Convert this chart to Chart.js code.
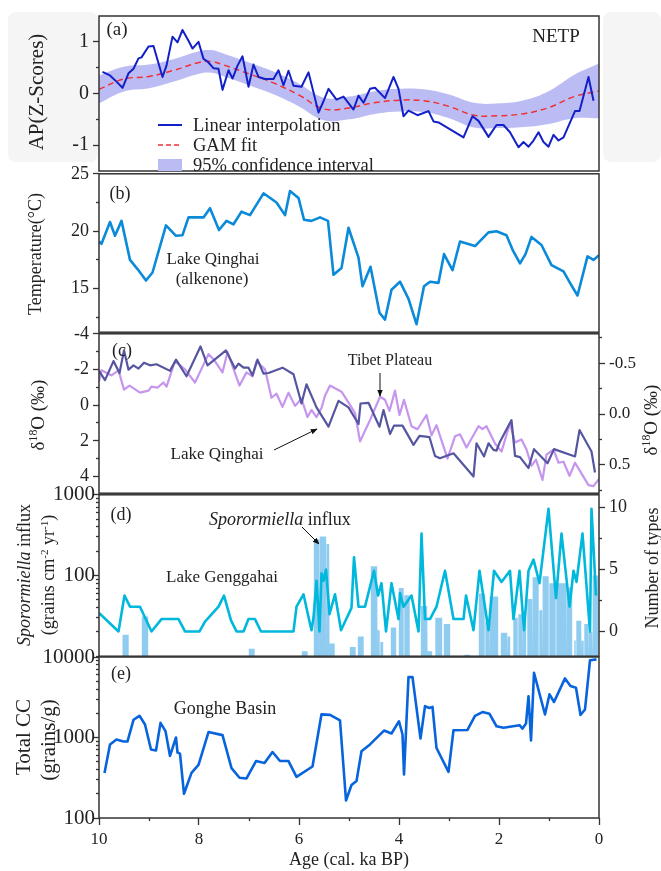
<!DOCTYPE html>
<html>
<head>
<meta charset="utf-8">
<script src="https://cdn.jsdelivr.net/npm/chart.js@4.4.1/dist/chart.umd.min.js"></script>
<style>
  body { margin: 0; background: #fff; }
  #fig { position: relative; width: 661px; height: 871px; overflow: hidden;
         font-family: 'Liberation Serif', 'Times New Roman', serif; color: #222; }
  #fig canvas { position: absolute; left: 0; }
  .shade { position: absolute; background: #f5f5f5; border-radius: 8px; }
  .c { position: absolute; white-space: nowrap; line-height: 1; transform: translate(-50%, -50%); }
  .l { position: absolute; white-space: nowrap; line-height: 1; transform: translate(0, -50%); }
  .vt { position: absolute; white-space: nowrap; line-height: 1; transform: translate(-50%, -50%) rotate(-90deg); }
  sup { font-size: 0.62em; vertical-align: 0.55em; line-height: 0; }
  svg { position: absolute; left: 0; top: 0; }
</style>
</head>
<body>
<div id="fig">
  <div class="shade" style="left:8px;top:12px;width:90px;height:150px"></div>
  <div class="shade" style="left:603px;top:12px;width:58px;height:150px"></div>

  <canvas id="pa"></canvas>
  <canvas id="pb"></canvas>
  <canvas id="pc"></canvas>
  <canvas id="pd"></canvas>
  <canvas id="pe"></canvas>

  <svg width="661" height="871">
    <defs>
      <marker id="head" viewBox="0 0 10 10" refX="9" refY="5" markerWidth="7" markerHeight="7" orient="auto">
        <path d="M0,1 L10,5 L0,9 z" fill="#111"/>
      </marker>
    </defs>
    <!-- legend swatches, panel (a) -->
    <line x1="158" y1="125" x2="182" y2="125" stroke="#1320c8" stroke-width="2"/>
    <line x1="158" y1="145" x2="182" y2="145" stroke="#f03030" stroke-width="1.5" stroke-dasharray="5,3"/>
    <rect x="158" y="159" width="24" height="12" fill="#bcbcf4"/>
    <!-- pointers -->
    <line x1="274" y1="450" x2="317" y2="429" stroke="#111" stroke-width="1" marker-end="url(#head)"/>
    <line x1="380" y1="373" x2="380" y2="396" stroke="#111" stroke-width="1" marker-end="url(#head)"/>
    <line x1="302" y1="527" x2="319" y2="544" stroke="#111" stroke-width="1" marker-end="url(#head)"/>
  </svg>

  <!-- axis titles -->
  <div class="vt" style="left:36px;top:92px;font-size:21px">AP(Z-Scores)</div>
  <div class="vt" style="left:35px;top:254px;font-size:18px">Temperature(°C)</div>
  <div class="vt" style="left:37px;top:415px;font-size:19px">δ<sup>18</sup>O (‰)</div>
  <div class="vt" style="left:650px;top:420px;font-size:19px">δ<sup>18</sup>O (‰)</div>
  <div class="vt" style="left:24px;top:575px;font-size:18px"><i>Sporormiella</i> influx</div>
  <div class="vt" style="left:48px;top:575px;font-size:18px">(grains cm<sup>-2</sup> yr<sup>-1</sup>)</div>
  <div class="vt" style="left:652px;top:568px;font-size:18px">Number of types</div>
  <div class="vt" style="left:23px;top:737px;font-size:21px">Total CC</div>
  <div class="vt" style="left:48px;top:740px;font-size:21px">(grains/g)</div>

  <!-- panel labels and notes -->
  <div class="c" style="left:117px;top:28px;font-size:19px">(a)</div>
  <div class="c" style="left:556px;top:35px;font-size:19px">NETP</div>
  <div class="l" style="left:193px;top:125px;font-size:18.5px">Linear interpolation</div>
  <div class="l" style="left:193px;top:145px;font-size:18.5px">GAM fit</div>
  <div class="l" style="left:193px;top:165px;font-size:18.5px">95% confidence interval</div>

  <div class="c" style="left:120px;top:193px;font-size:18px">(b)</div>
  <div class="c" style="left:213px;top:258px;font-size:17px">Lake Qinghai</div>
  <div class="c" style="left:212px;top:278px;font-size:17px">(alkenone)</div>

  <div class="c" style="left:122px;top:350px;font-size:18px">(c)</div>
  <div class="c" style="left:217px;top:453px;font-size:17px">Lake Qinghai</div>
  <div class="c" style="left:390px;top:360px;font-size:16px">Tibet Plateau</div>

  <div class="c" style="left:121px;top:514px;font-size:18px">(d)</div>
  <div class="l" style="left:209px;top:519px;font-size:18px"><i>Sporormiella</i> influx</div>
  <div class="c" style="left:222px;top:576px;font-size:17px">Lake Genggahai</div>

  <div class="c" style="left:121px;top:673px;font-size:18px">(e)</div>
  <div class="c" style="left:225px;top:708px;font-size:18px">Gonghe Basin</div>
</div>

<script>
// (a) arboreal pollen Z-scores, NETP
const apAge = [9.93, 9.78, 9.65, 9.53, 9.41, 9.31, 9.21, 9.15, 9.01, 8.91, 8.73, 8.65, 8.53, 8.43, 8.33, 8.21, 8.13, 8.01,
  7.91, 7.83, 7.71, 7.61, 7.53, 7.41, 7.33, 7.23, 7.13, 7.01, 6.91, 6.81, 6.68, 6.51, 6.41, 6.31, 6.21, 6.11, 5.95, 5.81,
  5.61, 5.51, 5.41, 5.25, 5.11, 4.91, 4.81, 4.71, 4.58, 4.48, 4.28, 4.11, 4.01, 3.91, 3.81, 3.63, 3.41, 3.31, 3.21, 2.71,
  2.53, 2.41, 2.21, 2.05, 1.91, 1.78, 1.61, 1.51, 1.41, 1.31, 1.21, 1.11, 1.01, 0.91, 0.81, 0.71, 0.48, 0.39, 0.21, 0.11];
const apValue = [0.42, 0.35, 0.23, 0.11, 0.39, 0.48, 0.68, 0.70, 0.91, 0.92, 0.32, 0.54, 1.10, 0.99, 1.23, 1.02, 0.87, 1.00,
  0.67, 0.62, 0.49, 0.48, 0.07, 0.45, 0.29, 0.54, 0.72, 0.13, 0.56, 0.32, 0.28, 0.28, 0.45, 0.16, 0.44, 0.15, 0.13, 0.41,
  -0.37, -0.15, 0.09, -0.12, -0.06, -0.31, -0.04, -0.18, 0.09, 0.11, -0.09, 0.32, 0.09, -0.44, -0.33, -0.42, -0.34, -0.54, -0.56, -0.85,
  -0.44, -0.53, -0.84, -0.61, -0.61, -0.75, -1.04, -0.94, -1.03, -0.91, -0.75, -0.94, -1.03, -0.80, -0.91, -0.85, -0.34, -0.34, 0.32, -0.14];
const gamAge = [10, 9.5, 9, 8.5, 8, 7.75, 7.5, 7, 6.5, 6, 5.5, 5, 4.5, 4, 3.5, 3, 2.5, 2, 1.5, 1, 0.5, 0];
const gamFit = [0.08, 0.28, 0.33, 0.45, 0.60, 0.62, 0.55, 0.38, 0.20, -0.03, -0.30, -0.28, -0.18, -0.13, -0.14, -0.25, -0.42, -0.43, -0.39, -0.27, -0.06, 0.05];
const ciUpper = [0.35, 0.52, 0.56, 0.67, 0.82, 0.84, 0.77, 0.60, 0.42, 0.19, -0.08, -0.06, 0.04, 0.09, 0.08, -0.02, -0.18, -0.19, -0.13, 0.05, 0.36, 0.58];
const ciLower = [-0.19, 0.04, 0.10, 0.23, 0.38, 0.40, 0.33, 0.16, -0.02, -0.25, -0.52, -0.50, -0.40, -0.35, -0.36, -0.48, -0.66, -0.67, -0.65, -0.59, -0.48, -0.48];

// (b) Lake Qinghai alkenone temperature
const tempAge = [10, 9.95, 9.78, 9.68, 9.55, 9.38, 9.23, 9.06, 8.93, 8.66, 8.46, 8.33, 8.21, 7.91, 7.78, 7.6, 7.45, 7.31,
  7.15, 6.98, 6.71, 6.45, 6.28, 6.18, 6.01, 5.9, 5.75, 5.58, 5.42, 5.31, 5.15, 5.01, 4.81, 4.73, 4.57, 4.39, 4.28, 4.15,
  3.98, 3.81, 3.65, 3.5, 3.38, 3.21, 3.1, 2.93, 2.78, 2.48, 2.21, 2.05, 1.85, 1.72, 1.58, 1.47, 1.35, 1.15, 0.95, 0.71,
  0.58, 0.43, 0.23, 0.11, 0];
const tempValue = [19.1, 18.9, 20.8, 19.6, 20.9, 17.5, 16.7, 15.7, 16.4, 20.5, 19.6, 19.65, 21.2, 21.2, 22.0, 20.1, 20.9, 20.6,
  21.7, 21.4, 23.3, 22.5, 21.4, 23.5, 22.9, 21.0, 20.9, 21.2, 20.9, 16.2, 16.8, 20.3, 17.7, 15.2, 16.9, 12.9, 12.3, 14.9,
  15.6, 14.1, 11.9, 15.2, 15.6, 15.5, 18.0, 16.6, 19.1, 18.7, 19.9, 20.0, 19.65, 18.3, 17.2, 18.0, 19.5, 18.8, 17.05, 16.5,
  15.5, 14.4, 17.8, 17.5, 17.9];

// (c) d18O: Lake Qinghai (left axis) and Tibet Plateau (right axis)
const qhAge = [10, 9.88, 9.71, 9.59, 9.5, 9.41, 9.31, 9.21, 9.1, 8.98, 8.85, 8.58, 8.46, 8.25, 7.97, 7.83, 7.46, 7.28, 7.21,
  7.11, 7.01, 6.93, 6.83, 6.71, 6.61, 6.33, 6.11, 5.95, 5.85, 5.65, 5.41, 5.21, 5.01, 4.81, 4.77, 4.61, 4.39, 4.31, 4.18,
  4.1, 3.93, 3.71, 3.59, 3.39, 3.28, 3.18, 2.91, 2.51, 2.45, 2.3, 2.21, 2.11, 2.05, 1.98, 1.75, 1.68, 1.58, 1.41, 1.3,
  1.03, 0.9, 0.48, 0.39, 0.15, 0.08];
const qhD18O = [-1.92, -1.40, -2.47, -1.80, -3.07, -1.99, -2.23, -2.05, -2.38, -2.23, -2.29, -1.92, -2.55, -1.62, -3.29, -2.23, -3.07, -2.05, -2.33,
  -2.10, -2.10, -1.67, -2.55, -1.77, -1.80, -2.10, -1.73, -0.09, -1.17, 0.13, 1.21, -0.24, 0.13, 1.06, -0.09, -0.13, 1.21, 0.28, 1.62,
  1.15, 1.15, 2.23, 1.73, 1.80, 2.85, 2.98, 2.70, 4.00, 2.14, 2.88, 2.14, 2.51, 2.55, 2.05, 0.84, 2.85, 2.92, 3.53, 2.47,
  3.26, 2.47, 2.88, 1.40, 2.60, 3.78];
const tpAge = [10, 9.95, 9.75, 9.61, 9.5, 9.39, 9.18, 9.01, 8.95, 8.83, 8.71, 8.65, 8.48, 8.28, 8.08, 7.81, 7.71, 7.53, 7.43,
  7.19, 7.05, 6.93, 6.85, 6.68, 6.55, 6.45, 6.33, 6.21, 6.08, 5.95, 5.83, 5.75, 5.65, 5.55, 5.48, 5.38, 5.15, 4.98, 4.88,
  4.78, 4.58, 4.38, 4.28, 4.19, 4.08, 3.99, 3.9, 3.75, 3.63, 3.45, 3.35, 3.25, 3.03, 2.88, 2.78, 2.65, 2.41, 2.33, 2.25,
  2.08, 1.95, 1.78, 1.68, 1.55, 1.45, 1.35, 1.26, 1.13, 1.05, 0.91, 0.81, 0.71, 0.59, 0.48, 0.37, 0.21, 0.11, 0];
const tpD18O = [-0.32, -0.43, -0.38, -0.43, -0.24, -0.28, -0.21, -0.23, -0.27, -0.26, -0.31, -0.27, -0.52, -0.44, -0.31, -0.59, -0.54, -0.41, -0.61,
  -0.28, -0.41, -0.37, -0.52, -0.44, -0.16, -0.20, -0.07, -0.21, -0.08, -0.15, 0.03, -0.04, 0.03, -0.06, -0.18, -0.28, -0.22, -0.09, -0.01,
  0.27, 0.06, -0.17, -0.14, -0.03, -0.23, 0.01, -0.14, 0.12, 0.15, 0.01, 0.21, 0.11, 0.44, 0.22, 0.20, 0.33, 0.12, 0.15, 0.12,
  0.29, 0.37, 0.09, 0.28, 0.25, 0.35, 0.51, 0.45, 0.65, 0.40, 0.35, 0.48, 0.47, 0.61, 0.48, 0.57, 0.70, 0.71, 0.64];

// (d) Lake Genggahai: Sporormiella influx bars and number of dung-fungus types
const sporFrom = [9.54, 9.15, 7.01, 5.95, 5.71, 5.59, 5.45, 5.39, 4.99, 4.83, 4.57, 4.43, 4.38, 4.17, 4.01, 3.90, 3.57, 3.43,
  3.28, 3.11, 2.70, 2.41, 2.28, 2.19, 1.97, 1.83, 1.72, 1.62, 1.53, 1.44, 1.33, 1.20, 1.13, 1.00, 0.86, 0.65, 0.50, 0.46,
  0.35, 0.30, 0.21, 0.13];
const sporTo = [9.40, 9.01, 6.88, 5.82, 5.59, 5.45, 5.39, 5.28, 4.86, 4.70, 4.43, 4.38, 4.31, 4.05, 3.90, 3.78, 3.43, 3.33,
  3.13, 2.97, 2.57, 2.28, 2.19, 2.01, 1.83, 1.77, 1.62, 1.53, 1.45, 1.33, 1.20, 1.13, 1.00, 0.86, 0.65, 0.53, 0.46, 0.35,
  0.30, 0.21, 0.13, 0.00];
const sporInflux = [18.5, 31, 12.4, 11.5, 280, 305, 245, 14.4, 13, 17.5, 130, 21, 15, 22.6, 70, 57, 42, 11.5,
  30, 25, 10.4, 60, 27, 55, 19.5, 17.5, 30, 33, 29.5, 51, 95, 37, 98, 80, 80, 71, 15.7, 27.5,
  15.5, 25, 20, 100];
const typesAge = [10, 9.61, 9.49, 9.38, 9.18, 8.95, 8.75, 8.41, 8.28, 7.99, 7.88, 7.61, 7.5, 7.36, 7.25, 7.11, 7.01, 6.88,
  6.76, 6.11, 6.05, 5.91, 5.79, 5.75, 5.71, 5.65, 5.59, 5.55, 5.51, 5.46, 5.39, 5.28, 5.16, 4.95, 4.9, 4.81, 4.68, 4.5,
  4.42, 4.35, 4.26, 4.15, 4.01, 3.98, 3.91, 3.75, 3.61, 3.55, 3.48, 3.38, 3.25, 3.08, 2.91, 2.71, 2.66, 2.51, 2.39, 2.21,
  2.1, 1.95, 1.78, 1.71, 1.59, 1.5, 1.41, 1.31, 1.19, 1.01, 0.86, 0.75, 0.59, 0.51, 0.45, 0.33, 0.18, 0.15, 0.06];
const typesCount = [1.5, 0, 2.9, 2, 2, 0, 1, 1, 0, 0, 0.8, 2, 2.9, 0.9, 0, 0, 1, 1,
  0, 0, 2, 3, 0.8, 0.1, 1.1, 4.1, 0, 4.7, 4.1, 5, 1.4, 3, 0.1, 1.9, 6, 2, 2, 4.9,
  2.9, 3.9, 0, 3.9, 1, 3.1, 2, 2.9, 0, 7.9, 1, 1, 2, 4.9, 1, 1, 2.9, 0.1, 4.9, 0.1,
  4.9, 4, 4.9, 1, 4.9, 0.1, 4.9, 5.8, 3.9, 9.9, 2.7, 7.9, 2, 4.9, 4, 7.9, 0, 9.9, 2.9];

// (e) Gonghe Basin total charcoal concentration
const ccAge = [9.89, 9.78, 9.65, 9.51, 9.43, 9.31, 9.19, 9.08, 8.96, 8.86, 8.77, 8.67, 8.58, 8.46, 8.43, 8.38, 8.3, 8.15,
  8.01, 7.81, 7.53, 7.35, 7.19, 7.05, 6.86, 6.69, 6.53, 6.38, 6.21, 6.05, 5.73, 5.55, 5.38, 5.18, 5.06, 4.95, 4.85, 4.75,
  4.58, 4.3, 4.15, 4.0, 3.93, 3.9, 3.81, 3.73, 3.57, 3.48, 3.39, 3.33, 3.25, 3.01, 2.91, 2.63, 2.48, 2.33, 2.19, 2.05,
  1.91, 1.59, 1.53, 1.46, 1.41, 1.36, 1.3, 1.08, 0.99, 0.9, 0.68, 0.57, 0.46, 0.37, 0.28, 0.18, 0.05];
const ccValue = [363, 819, 945, 893, 893, 1660, 1860, 1450, 710, 690, 1520, 1200, 590, 1000, 650, 630, 200, 363,
  457, 1170, 1070, 417, 316, 310, 510, 482, 660, 510, 510, 324, 436, 1940, 1910, 1630, 165, 257, 288, 675,
  820, 1220, 1120, 1590, 1090, 347, 5630, 5630, 970, 2450, 2330, 2400, 740, 375, 1230, 1240, 1860, 2070, 1970, 1380,
  1320, 1420, 1290, 1490, 3260, 920, 6380, 1930, 3440, 2760, 5420, 4360, 4150, 1900, 2230, 9090, 9350];

// axis tick values (all ticks) and the ones that carry labels
const ageTicks = [10, 9, 8, 7, 6, 5, 4, 3, 2, 1, 0], ageLabels = [10, 8, 6, 4, 2, 0];
const apTicks = [1, 0.5, 0, -0.5, -1], apLabels = [1, 0, -1];
const tempTicks = [25, 22.5, 20, 17.5, 15, 12.5], tempLabels = [25, 20, 15];
const qhTicks = [-4, -3, -2, -1, 0, 1, 2, 3, 4], qhLabels = [-4, -2, 0, 2, 4];
const tpTicks = [-0.75, -0.5, -0.25, 0, 0.25, 0.5, 0.75], tpLabels = [-0.5, 0, 0.5];
const sporLabels = [100, 1000];
const typesTicks = [0, 2.5, 5, 7.5, 10], typesLabels = [0, 5, 10];
const ccLabels = [100, 1000, 10000];

const SERIF = "'Liberation Serif', 'Times New Roman', serif";
const W = 661, PLOT_L = 99, PLOT_R = 599, PAD = 14;
const INK = '#333';

function logTicks(lo, hi) {
  const t = [];
  for (let d = lo; d < hi; d *= 10) for (let m = 1; m < 10; m++) t.push(d * m);
  t.push(hi);
  return t;
}

const pts = (xs, ys) => xs.map((x, i) => ({ x, y: ys[i] }));

function yAxis(o) {
  const left = o.position !== 'right';
  return {
    type: o.type || 'linear',
    position: left ? 'left' : 'right',
    min: o.min, max: o.max, reverse: !!o.reverse,
    border: { display: false },
    grid: {
      drawOnChartArea: false, tickLength: 6, tickWidth: 1.3, tickColor: INK,
      // short minor ticks: only the 3 px next to the frame are drawn
      tickBorderDash: c => (c.tick && c.tick.minor) ? (left ? [3, 3] : [3, 30]) : [],
      tickBorderDashOffset: left ? 3 : 0
    },
    ticks: {
      color: '#222', padding: o.pad !== undefined ? o.pad : 4, autoSkip: false, font: { family: SERIF, size: o.size || 18 },
      callback: v => o.labels.includes(v) ? (o.fmt ? o.fmt(v) : String(v)) : ''
    },
    afterBuildTicks: s => { s.ticks = o.ticks.map(v => ({ value: v, minor: !o.labels.includes(v) })); },
    afterFit: s => { s.width = left ? PLOT_L : W - PLOT_R; }
  };
}

function ageAxis(show) {
  return {
    type: 'linear', min: 0, max: 10, reverse: true, display: show,
    border: { display: false },
    grid: {
      drawOnChartArea: false, tickLength: 7, tickWidth: 1.3, tickColor: INK,
      tickBorderDash: c => (c.tick && c.tick.minor) ? [3, 30] : []
    },
    ticks: {
      color: '#222', padding: 4, autoSkip: false, maxRotation: 0, font: { family: SERIF, size: 17 },
      callback: v => ageLabels.includes(v) ? String(v) : ''
    },
    title: { display: show, text: 'Age (cal. ka BP)', color: '#222', font: { family: SERIF, size: 18 }, padding: { top: 0, bottom: 0 } },
    afterBuildTicks: s => { s.ticks = ageTicks.map(v => ({ value: v, minor: !ageLabels.includes(v) })); },
    // hidden axes in the upper panels must not take any room
    afterFit: s => { s.height = show ? 53 : 0; }
  };
}

const framePlugin = {
  id: 'frame',
  afterDraw(chart) {
    const { ctx, chartArea: a } = chart;
    ctx.save();
    ctx.strokeStyle = INK;
    ctx.lineWidth = 1.5;
    ctx.strokeRect(a.left, a.top, a.right - a.left, a.bottom - a.top);
    ctx.restore();
  }
};

function panel(id, top, height, pad, datasets, scales, hasRight) {
  const cv = document.getElementById(id);
  cv.width = W; cv.height = height;
  cv.style.top = top + 'px';
  return new Chart(cv, {
    type: 'line',
    data: { datasets },
    options: {
      responsive: false, animation: false, devicePixelRatio: 1,
      layout: { padding: { top: pad.top, bottom: pad.bottom, left: 0, right: hasRight ? 0 : W - PLOT_R } },
      plugins: { legend: { display: false }, tooltip: { enabled: false } },
      elements: { point: { radius: 0 }, line: { tension: 0, borderJoinStyle: 'round' } },
      scales
    },
    plugins: [framePlugin]
  });
}

// (a) plot area 13..173
panel('pa', 0, 187, { top: 13, bottom: 14 }, [
  { data: pts(apAge, apValue), borderColor: '#1320c8', borderWidth: 2, fill: false },
  { data: pts(gamAge, gamFit), borderColor: '#f03030', borderWidth: 1.5, borderDash: [6, 4], tension: 0.4, fill: false },
  { data: pts(gamAge, ciUpper), borderWidth: 0, backgroundColor: '#bcbcf4', tension: 0.4, fill: '+1' },
  { data: pts(gamAge, ciLower), borderWidth: 0, tension: 0.4, fill: false }
], {
  x: ageAxis(false),
  y: yAxis({ min: -1.5, max: 1.5, ticks: apTicks, labels: apLabels, size: 20 })
}, false);

// (b) plot area 173..333
panel('pb', 173 - PAD, 160 + 2 * PAD, { top: PAD, bottom: PAD }, [
  { data: pts(tempAge, tempValue), borderColor: '#0a8ad8', borderWidth: 2.6, fill: false }
], {
  x: ageAxis(false),
  y: yAxis({ min: 11.2, max: 25, ticks: tempTicks, labels: tempLabels })
}, false);

// (c) plot area 333..494
panel('pc', 333 - PAD, 161 + 2 * PAD, { top: PAD, bottom: PAD }, [
  { data: pts(qhAge, qhD18O), yAxisID: 'y', borderColor: '#5656a0', borderWidth: 2.2, fill: false },
  { data: pts(tpAge, tpD18O), yAxisID: 'y2', borderColor: '#c695ee', borderWidth: 2.2, fill: false }
], {
  x: ageAxis(false),
  y: yAxis({ min: -4, max: 4.94, reverse: true, ticks: qhTicks, labels: qhLabels }),
  y2: yAxis({ position: 'right', min: -0.79, max: 0.78, reverse: true, ticks: tpTicks, labels: tpLabels, size: 17, fmt: v => v.toFixed(1) })
}, true);

// (d) plot area 494..657; influx bars are filled outlines on the log axis
const BAR_GAP = 0.006;
const sporBars = [];
sporFrom.forEach((a, i) => {
  const b = sporTo[i], v = sporInflux[i];
  sporBars.push({ x: a - BAR_GAP, y: 10 }, { x: a - BAR_GAP, y: v }, { x: b + BAR_GAP, y: v }, { x: b + BAR_GAP, y: 10 });
});
panel('pd', 494 - PAD, 163 + 2 * PAD, { top: PAD, bottom: PAD }, [
  { data: pts(typesAge, typesCount), yAxisID: 'y2', borderColor: '#00b8dc', borderWidth: 2.6, fill: false },
  { data: sporBars, yAxisID: 'y', borderWidth: 0, borderColor: 'rgba(0,0,0,0)', backgroundColor: '#8fccf0', fill: 'start' }
], {
  x: ageAxis(false),
  y: yAxis({ type: 'logarithmic', min: 10, max: 1000, ticks: logTicks(10, 1000), labels: sporLabels, size: 21, pad: -2 }),
  y2: yAxis({ position: 'right', min: -2, max: 11.04, ticks: typesTicks, labels: typesLabels })
}, true);

// (e) plot area 657..818 with the age axis below
panel('pe', 657 - PAD, 871 - 657 + PAD, { top: PAD, bottom: 0 }, [
  { data: pts(ccAge, ccValue), borderColor: '#0864dc', borderWidth: 2.6, fill: false }
], {
  x: ageAxis(true),
  y: yAxis({ type: 'logarithmic', min: 100, max: 10000, ticks: logTicks(100, 10000), labels: ccLabels, size: 21, pad: -2 })
}, false);
</script>
</body>
</html>
